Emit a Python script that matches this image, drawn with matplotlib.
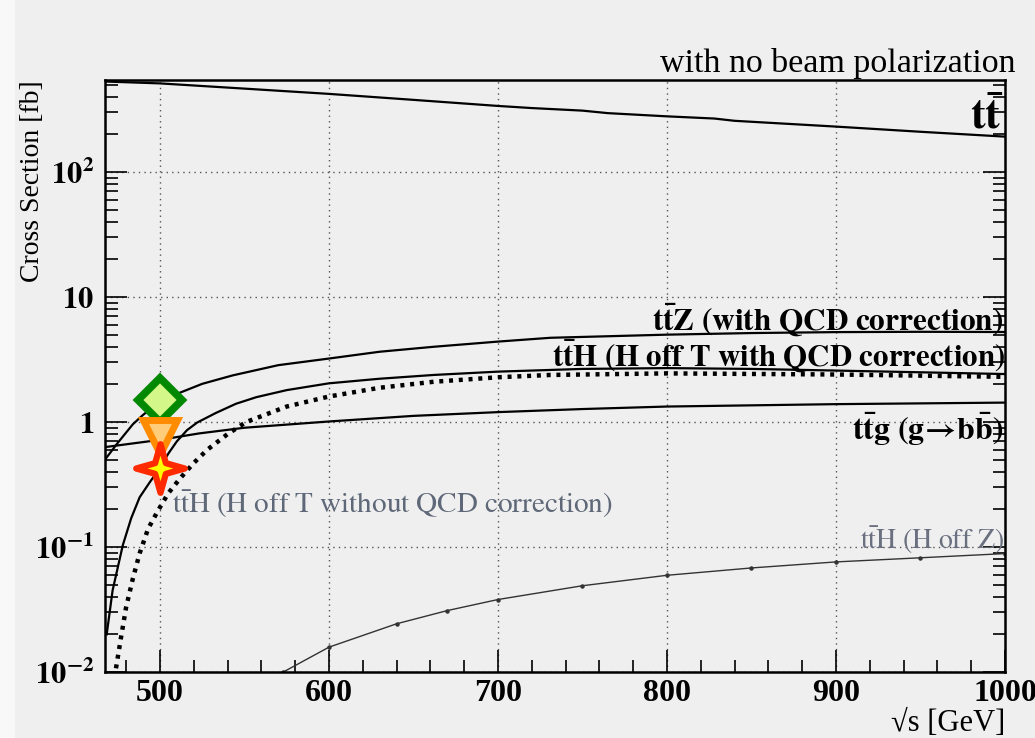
import matplotlib
matplotlib.use("Agg")
import matplotlib.pyplot as plt
from matplotlib.path import Path
from matplotlib.patches import Rectangle
from matplotlib.ticker import FixedLocator, NullFormatter

plt.rcParams["font.family"] = ["Liberation Serif", "DejaVu Serif"]
plt.rcParams["mathtext.fontset"] = "stix"

BG = "#efefef"

# cross sections in fb vs sqrt(s) in GeV
tt_x = [467.5, 500, 550, 600, 650, 700, 720, 750, 765, 800, 828, 840, 900, 950, 1000]
tt_y = [530, 512, 465, 422, 378, 338, 325, 310, 296, 279, 268, 257, 231, 210, 192]

ttz_x = [467.5, 475, 484, 490, 500, 512, 525, 543, 570, 600, 630, 662, 700, 731, 800, 850, 900, 950, 1000]
ttz_y = [0.50, 0.68, 0.96, 1.14, 1.45, 1.72, 2.02, 2.36, 2.85, 3.22, 3.65, 4.0, 4.4, 4.72, 5.0, 5.15, 5.24, 5.27, 5.25]

tth_qcd_x = [468.5, 472, 478, 483, 488, 494, 499, 505, 510, 516, 522, 533, 545, 557, 575, 600, 630, 662, 700, 750, 800, 850, 900, 950, 1000]
tth_qcd_y = [0.020, 0.045, 0.103, 0.17, 0.25, 0.33, 0.41, 0.56, 0.70, 0.86, 0.99, 1.18, 1.40, 1.58, 1.80, 2.04, 2.22, 2.38, 2.53, 2.66, 2.70, 2.66, 2.58, 2.50, 2.42]

tth_lo_x = [474, 477, 480, 484, 488, 493, 499, 505, 512, 520, 528, 540, 551, 575, 600, 630, 662, 700, 731, 800, 900, 1000]
tth_lo_y = [0.0107, 0.019, 0.033, 0.056, 0.089, 0.14, 0.197, 0.27, 0.355, 0.47, 0.60, 0.80, 1.0, 1.33, 1.60, 1.88, 2.10, 2.28, 2.38, 2.45, 2.40, 2.30]

ttg_x = [467.5, 500, 523, 550, 600, 650, 700, 750, 800, 900, 1000]
ttg_y = [0.63, 0.72, 0.81, 0.90, 1.01, 1.12, 1.20, 1.27, 1.33, 1.39, 1.43]

tth_z_x = [573, 600, 640, 670, 700, 750, 800, 850, 900, 950, 1000]
tth_z_y = [0.0100, 0.0158, 0.0243, 0.031, 0.038, 0.049, 0.0594, 0.068, 0.076, 0.082, 0.0886]

# extra points at 500 GeV
pt_x = 500
pt_ttz = 1.50
pt_ttg = 0.76
pt_tth = 0.43

x_ticks = [500, 600, 700, 800, 900, 1000]
y_ticks = [0.01, 0.1, 1, 10, 100]
y_tick_labels = [r"$\mathbf{10^{-2}}$", r"$\mathbf{10^{-1}}$", r"$\mathbf{1}$",
                 r"$\mathbf{10}$", r"$\mathbf{10^{2}}$"]

STAR = Path([(0, 1), (0.22, 0.22), (1, 0), (0.22, -0.22), (0, -1),
             (-0.22, -0.22), (-1, 0), (-0.22, 0.22), (0, 1)],
            [Path.MOVETO] + [Path.LINETO] * 7 + [Path.CLOSEPOLY])


def main():
    fig = plt.figure(figsize=(10.35, 7.38), dpi=100, facecolor=BG)
    fig.patches.append(Rectangle((0, 0), 14 / 1035, 1, transform=fig.transFigure,
                                 color="#f8f8f8", zorder=-1))
    ax = fig.add_axes([105 / 1035, 1 - 672 / 738, 900 / 1035, 592 / 738])
    ax.set_facecolor(BG)
    ax.set_yscale("log")
    ax.set_xlim(467.5, 1000)
    ax.set_ylim(0.01, 545)

    ax.plot(tt_x, tt_y, color="black", lw=1.6)
    ax.plot(ttz_x, ttz_y, color="black", lw=1.6)
    ax.plot(tth_qcd_x, tth_qcd_y, color="black", lw=1.6)
    ax.plot(tth_lo_x, tth_lo_y, color="black", lw=3.2, ls=(0, (0.9, 1.3)))
    ax.plot(ttg_x, ttg_y, color="black", lw=1.6)
    ax.plot(tth_z_x, tth_z_y, color="#333333", lw=1.0, marker="o", ms=2.2)

    ax.plot(pt_x, pt_ttz, marker="D", ms=22, mfc="#d4f78a", mec="#008800", mew=5.5,
            clip_on=False, zorder=5)
    ax.plot(pt_x, pt_ttg, marker="v", ms=24, mfc="#ffcc7a", mec="#ff8c00", mew=5,
            clip_on=False, zorder=5)
    ax.plot(pt_x, pt_tth, marker=STAR, ms=35, mfc="#ffff00", mec="#ff2a00", mew=4.5,
            clip_on=False, zorder=6)

    ax.xaxis.set_major_locator(FixedLocator(x_ticks))
    ax.xaxis.set_minor_locator(FixedLocator(range(480, 1000, 20)))
    ax.set_xticklabels([str(v) for v in x_ticks], fontsize=23, fontweight="bold")
    ax.yaxis.set_major_locator(FixedLocator(y_ticks))
    ax.set_yticklabels(y_tick_labels, fontsize=22)
    ax.yaxis.set_minor_formatter(NullFormatter())
    ax.tick_params(which="both", direction="in", top=False, right=True, width=1.2)
    ax.tick_params(which="major", length=16, pad=8)
    ax.tick_params(axis="x", which="major", pad=5)
    ax.tick_params(which="minor", length=9)
    for s in ax.spines.values():
        s.set_linewidth(1.8)
    ax.grid(True, which="major", color="#555555", ls=(0, (1, 3)), lw=1.0)

    ax.text(999, 225, r"$\mathbf{t\bar{t}}$", fontsize=32, ha="right", va="baseline")
    ax.text(999, 5.45, r"$\mathbf{t\bar{t}Z\ (with\ QCD\ correction)}$",
            fontsize=22.5, ha="right", va="baseline")
    ax.text(1000, 2.8, r"$\mathbf{t\bar{t}H\ (H\ off\ T\ with\ QCD\ correction)}$",
            fontsize=22.2, ha="right", va="baseline")
    ax.text(999, 0.717, r"$\mathbf{t\bar{t}g\ (g\!\rightarrow\!b\bar{b})}$",
            fontsize=23, ha="right", va="baseline")
    ax.text(507, 0.187, r"$\mathrm{t\bar{t}H\ (H\ off\ T\ without\ QCD\ correction)}$",
            fontsize=21, color="#5f6878", ha="left", va="baseline")
    ax.text(914, 0.096, r"$\mathrm{t\bar{t}H\ (H\ off\ Z)}$",
            fontsize=20, color="#6a7080", ha="left", va="baseline")

    fig.text(1015 / 1035, 1 - 72 / 738, "with no beam polarization", fontsize=24.5,
             ha="right", va="baseline")
    fig.text(33 / 1035, 1 - 80 / 738, "Cross Section [fb]", fontsize=20,
             rotation=90, ha="center", va="top")
    fig.text(1005 / 1035, 1 - 731 / 738, "\u221as [GeV]", fontsize=22,
             ha="right", va="baseline")

    fig.savefig("out.png", dpi=100, facecolor=BG)


if __name__ == "__main__":
    main()
